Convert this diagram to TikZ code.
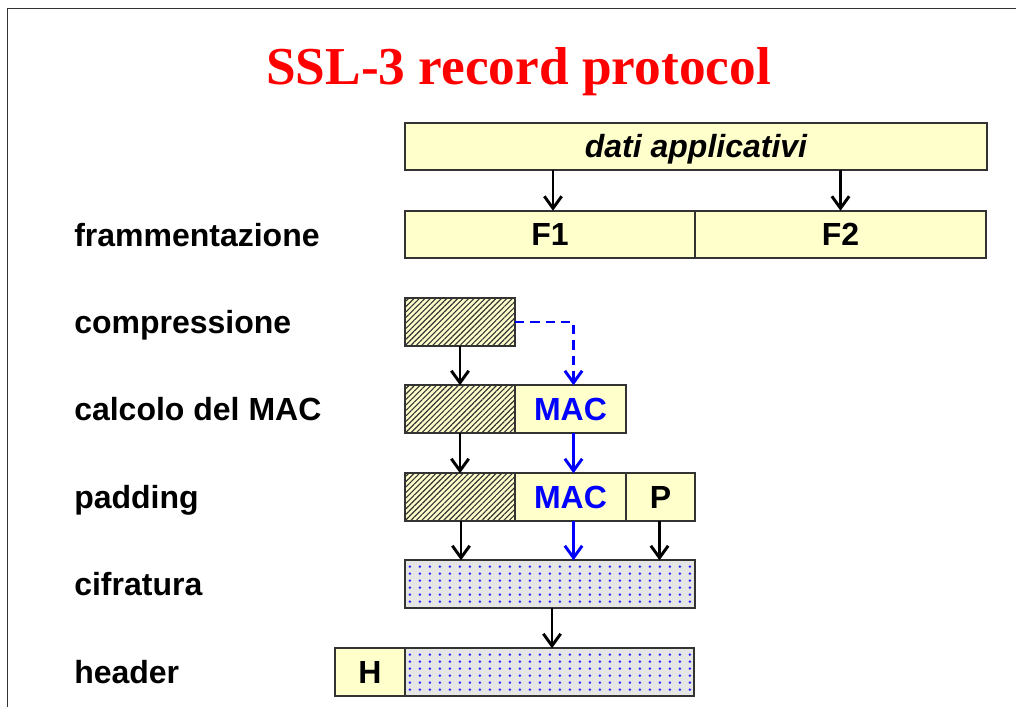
\documentclass[tikz,border=0pt]{standalone}
\usepackage{fontspec}
\setmainfont{Liberation Serif}
\setsansfont{Liberation Sans}
\usetikzlibrary{arrows.meta,patterns,patterns.meta}

% regular grid of small dots used for the encrypted blocks
\pgfdeclarepatternformonly{gridDots}{\pgfqpoint{0pt}{0pt}}{\pgfqpoint{7.8pt}{5.5pt}}{\pgfqpoint{7.8pt}{5.5pt}}{%
  \pgfpathcircle{\pgfqpoint{3.9pt}{2.75pt}}{1.1pt}\pgfusepath{fill}}

\definecolor{paleyellow}{HTML}{FFFFCC}
\definecolor{rimgray}{HTML}{333333}
\definecolor{dotgray}{HTML}{E6E6E6}
\definecolor{titlered}{HTML}{FF0000}
\definecolor{macblue}{HTML}{0000FF}

\begin{document}
\begin{tikzpicture}[x=0.75pt,y=-0.75pt,
  cell/.style={draw=rimgray, line width=1.2pt, inner sep=0pt, outer sep=0pt,
    minimum height=35.6pt, text height=17.2pt, text depth=0pt,
    font=\sffamily\bfseries\fontsize{24}{28}\selectfont},
  yellowcell/.style={cell, fill=paleyellow},
  hatched/.style={cell, preaction={fill=paleyellow},
    pattern={Lines[angle=45,distance=2.9pt,line width=0.85pt]}, pattern color=black!80},
  speckled/.style={cell, preaction={fill=dotgray}, pattern=gridDots, pattern color=macblue!85},
  steplabel/.style={anchor=base west, inner sep=0pt,
    font=\sffamily\bfseries\fontsize{24}{28}\selectfont},
  arr/.style={line width=2.2pt, -{Straight Barb[length=9pt,width=13pt]}},
  bluearr/.style={arr, draw=macblue},
  dasharr/.style={bluearr, dash pattern=on 7pt off 4.5pt}]

\useasboundingbox (0,0) rectangle (1016,707);

% slide frame (top and left edges)
\draw[rimgray, line width=1.2pt] (7.5,707) -- (7.5,8.5) -- (1016,8.5);

% title
\node[anchor=base, inner sep=0pt, text=titlered,
      font=\rmfamily\bfseries\fontsize{40}{46}\selectfont] (title) at (518.5,84) {SSL-3 record protocol};

% step labels
\node[steplabel] (lfram) at (74,246)   {frammentazione};
\node[steplabel] (lcomp) at (74,333.5) {compressione};
\node[steplabel] (lmac)  at (74,420.5) {calcolo del MAC};
\node[steplabel] (lpad)  at (74,508.5) {padding};
\node[steplabel] (lcif)  at (74,595.5) {cifratura};
\node[steplabel] (lhdr)  at (74,683.5) {header};

% application data
\node[yellowcell, minimum width=436.5pt, minimum height=35.25pt,
      font=\sffamily\bfseries\itshape\fontsize{24}{28}\selectfont] (dati) at (696,146.5) {dati applicativi};

% fragments
\node[yellowcell, minimum width=217.5pt] (F1) at (550,234.5) {F1};
\node[yellowcell, minimum width=218.25pt] (F2) at (840.5,234.5) {F2};

% compressed fragment
\node[hatched, minimum width=82.5pt] (c1) at (460,322) {};

% fragment + MAC
\node[hatched, minimum width=82.5pt] (c2) at (460,409) {};
\node[yellowcell, minimum width=83.25pt, text=macblue] (mac1) at (570.5,409) {MAC};

% fragment + MAC + padding
\node[hatched, minimum width=82.5pt] (c3) at (460,497) {};
\node[yellowcell, minimum width=83.25pt, text=macblue] (mac2) at (570.5,497) {MAC};
\node[yellowcell, minimum width=51.75pt] (pad) at (660.5,497) {P};

% encrypted block
\node[speckled, minimum width=217.5pt] (enc) at (550,584) {};

% header + encrypted block
\node[yellowcell, minimum width=52.5pt] (hdr) at (370,672) {H};
\node[speckled, minimum width=216.75pt] (enc2) at (549.5,672) {};

% connectors
\draw[arr] (dati.south -| 553,0) -- (F1.north -| 553,0);
\draw[arr] (dati.south -| 840.5,0) -- (F2.north -| 840.5,0);
\draw[arr] (c1.south) -- (c2.north);
\draw[dasharr] (c1.east) -| (mac1.north -| 573.5,0);
\draw[arr] (c2.south) -- (c3.north);
\draw[bluearr] (mac1.south -| 573.5,0) -- (mac2.north -| 573.5,0);
\draw[arr] (c3.south -| 461,0) -- (enc.north -| 461,0);
\draw[bluearr] (mac2.south -| 573.5,0) -- (enc.north -| 573.5,0);
\draw[arr] (pad.south -| 659.5,0) -- (enc.north -| 659.5,0);
\draw[arr] (enc.south -| 552,0) -- (enc2.north -| 552,0);

\end{tikzpicture}
\end{document}
